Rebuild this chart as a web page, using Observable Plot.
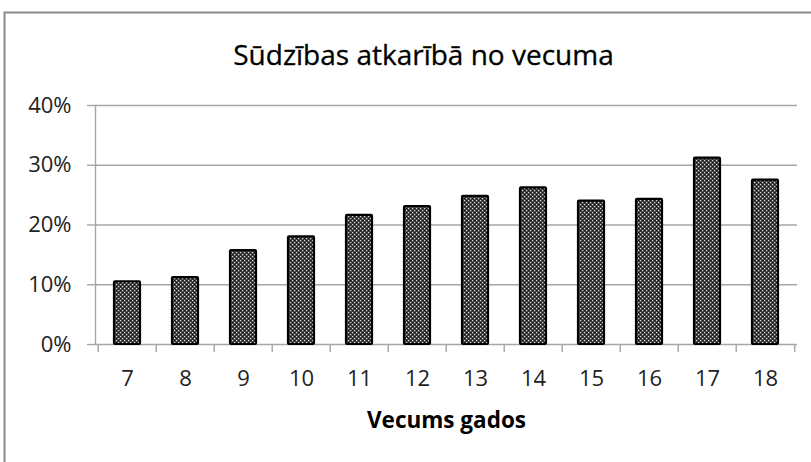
<!DOCTYPE html>
<html>
<head>
<meta charset="utf-8">
<script src="https://cdn.jsdelivr.net/npm/d3@7"></script>
<script src="https://cdn.jsdelivr.net/npm/@observablehq/plot@0.6"></script>
<style>
  html, body { margin: 0; padding: 0; background: #fff; }
  #chart { width: 811px; height: 462px; overflow: hidden; }
</style>
</head>
<body>
<div id="chart"></div>
<script>
const ages = ["7", "8", "9", "10", "11", "12", "13", "14", "15", "16", "17", "18"];
const shares = [0.105, 0.112, 0.157, 0.180, 0.216, 0.231, 0.248, 0.262, 0.240, 0.243, 0.312, 0.275];
const yTicks = [0, 0.1, 0.2, 0.3, 0.4];
const title = "Sūdzības atkarībā no vecuma";
const xLabel = "Vecums gados";

const data = ages.map((a, i) => ({age: a, value: shares[i]}));

const W = 811, H = 462;
const mL = 95, mR = 14, mT = 105, mB = 118;
const step = (W - mL - mR) / ages.length;
const grid = "#a6a6a6";
const font = "'Open Sans', sans-serif";

const chart = Plot.plot({
  width: W,
  height: H,
  marginLeft: mL,
  marginRight: mR,
  marginTop: mT,
  marginBottom: mB,
  style: {fontFamily: font, fontSize: "22px", color: "#000", background: "#fff"},
  x: {domain: ages, paddingInner: 0.55, paddingOuter: 0.275, axis: null},
  y: {domain: [0, 0.4], axis: null},
  marks: [
    Plot.ruleY(yTicks, {stroke: grid, strokeWidth: 1.4}),
    Plot.frame({anchor: "left", stroke: grid, strokeWidth: 1.4}),
    Plot.axisY({ticks: yTicks, label: null, tickFormat: d3.format(".0%"), tickSize: 8, tickPadding: 16, stroke: grid, strokeWidth: 1.4, fontSize: 22, fill: "#222"}),
    Plot.axisX({label: null, tickSize: 8, tickFormat: () => "", dx: -step / 2, stroke: grid, strokeWidth: 1.4}),
    Plot.axisX({label: null, ticks: [ages[ages.length - 1]], tickSize: 8, tickFormat: () => "", dx: step / 2, stroke: grid, strokeWidth: 1.4}),
    Plot.axisX({label: null, tickSize: 0, tickPadding: 26, fontSize: 22, fill: "#222"}),
    Plot.barY(data, {x: "age", y: "value", fill: "url(#dots)", stroke: "#000", strokeWidth: 2.2, rx: 1}),
    Plot.text([xLabel], {frameAnchor: "bottom", lineAnchor: "middle", dy: 76, fontWeight: "bold", fontSize: 22.5, fill: "#000"}),
    Plot.text([title], {frameAnchor: "top", lineAnchor: "middle", dy: -49, dx: -23, fontSize: 28, fill: "#000", stroke: "#000", strokeWidth: 0.3})
  ]
});

// pattern + outer chart border
const svg = d3.select(chart);
const defs = svg.insert("defs", ":first-child");
const pat = defs.append("pattern").attr("id", "dots").attr("patternUnits", "userSpaceOnUse")
  .attr("width", 4).attr("height", 4);
pat.append("rect").attr("width", 4).attr("height", 4).attr("fill", "#3a3a3a");
pat.append("rect").attr("x", 0).attr("y", 0).attr("width", 1.2).attr("height", 1.2).attr("fill", "#d8d8d8");
pat.append("rect").attr("x", 2).attr("y", 2).attr("width", 1.2).attr("height", 1.2).attr("fill", "#d8d8d8");
pat.append("rect").attr("x", 2).attr("y", 0).attr("width", 1).attr("height", 1).attr("fill", "#111");
pat.append("rect").attr("x", 0).attr("y", 2).attr("width", 1).attr("height", 1).attr("fill", "#111");
svg.insert("rect", "defs + *")
  .attr("x", 4.5).attr("y", 12.5).attr("width", 820).attr("height", 500)
  .attr("fill", "none").attr("stroke", "#8a8a8a").attr("stroke-width", 2);

document.getElementById("chart").appendChild(chart);
</script>
</body>
</html>
